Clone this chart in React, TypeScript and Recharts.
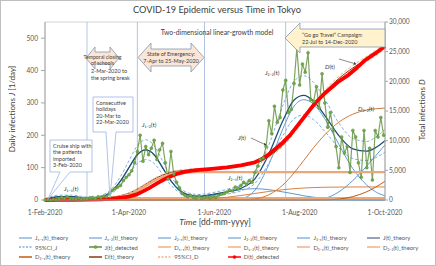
import React from "react";
import { ComposedChart, Line, XAxis, YAxis, ReferenceLine, ReferenceArea, Legend } from "recharts";

// axes
const dateTicks = [0, 60, 121, 182, 243];
const dateTickLabels = ["1-Feb-2020", "1-Apr-2020", "1-Jun-2020", "1-Aug-2020", "1-Oct-2020"];
const dailyTicks = [0, 100, 200, 300, 400, 500];
const totalTicks = [0, 5000, 10000, 15000, 20000, 25000, 30000];
// 2-Mar, 7-Apr, 25-May, 22-Jul
const eventLineDays = [30, 66, 114, 172];

// theory curves, days since 1-Feb-2020
const theoryDays = [0, 10, 20, 30, 36, 42, 48, 54, 60, 66, 72, 78, 84, 90, 96, 102, 110, 120, 130, 140, 150, 160, 170, 178, 185, 192, 200, 210, 220, 230, 236, 243];
const j11Theory = [2, 10, 10, 4, 2, 0.5, 0, 0, 0, 0, 0, 0, 0, 0, 0, 0, 0, 0, 0, 0, 0, 0, 0, 0, 0, 0, 0, 0, 0, 0, 0, 0];
const j12Theory = [0, 0, 0, 1, 3, 11, 28, 59, 100, 140, 155, 140, 100, 59, 28, 11, 2, 0, 0, 0, 0, 0, 0, 0, 0, 0, 0, 0, 0, 0, 0, 0];
const j21Theory = [0, 0, 0, 0, 0, 0, 0, 0, 0, 0, 0, 0, 0, 0, 3.4, 5.5, 9.7, 17, 25, 32, 35, 32, 25, 19, 13, 8.6, 4.7, 2, 0.7, 0.2, 0, 0];
const j22Theory = [0, 0, 0, 0, 0, 0, 0, 0, 0, 0, 0, 0, 0, 0, 0, 0, 0, 0, 0, 4, 30, 110, 220, 290, 310, 296, 251, 172, 97, 46, 26, 13];
const j31Theory = [0, 0, 0, 0, 0, 0, 0, 0, 0, 0, 0, 0, 0, 0, 0, 0, 0, 0, 0, 0, 0, 0, 0, 0, 0, 0, 5, 25, 60, 105, 135, 170];
const jTheory = [2, 10, 10, 5, 5, 11.5, 28, 59, 100, 140, 155, 140, 100, 59, 31, 16.5, 11.7, 17, 25, 36, 65, 142, 245, 309, 323, 305, 261, 199, 158, 151, 161, 183];
const jCiUpper = [4, 15, 15, 9, 9, 17, 36, 73, 121, 168, 186, 168, 121, 73, 40, 22, 17, 23, 33, 46, 80, 170, 292, 367, 384, 363, 311, 238, 190, 181, 193, 219];
const jCiLower = [0, 6, 6, 2, 2, 7, 21, 46, 80, 113, 125, 113, 80, 46, 23, 12, 8, 12, 18, 28, 51, 114, 199, 251, 263, 248, 212, 161, 128, 122, 130, 148];
const d11Theory = [0, 60, 170, 260, 290, 310, 320, 330, 330, 330, 330, 330, 330, 330, 330, 330, 330, 330, 330, 330, 330, 330, 330, 330, 330, 330, 330, 330, 330, 330, 330, 330];
const d12Theory = [0, 0, 0, 5, 13, 49, 151, 395, 840, 1517, 2350, 3183, 3860, 4305, 4550, 4650, 4690, 4700, 4700, 4700, 4700, 4700, 4700, 4700, 4700, 4700, 4700, 4700, 4700, 4700, 4700, 4700];
const d21Theory = [0, 0, 0, 0, 0, 0, 0, 0, 0, 0, 0, 0, 0, 18, 34, 60, 120, 253, 466, 759, 1100, 1441, 1734, 1911, 2022, 2098, 2150, 2180, 2195, 2200, 2200, 2200];
const d22Theory = [0, 0, 0, 0, 0, 0, 0, 0, 0, 0, 0, 0, 0, 0, 0, 0, 0, 0, 0, 10, 180, 880, 2530, 4560, 6690, 8830, 11000, 13120, 14460, 15170, 15370, 15500];
const d31Theory = [0, 0, 0, 0, 0, 0, 0, 0, 0, 0, 0, 0, 0, 0, 0, 0, 0, 0, 0, 0, 0, 0, 0, 0, 0, 0, 15, 150, 570, 1400, 2120, 3180];
const dTheory = [0, 60, 170, 265, 303, 359, 471, 725, 1170, 1847, 2680, 3513, 4190, 4653, 4914, 5040, 5140, 5283, 5496, 5799, 6310, 7351, 9294, 11501, 13742, 15958, 18195, 20480, 22255, 23800, 24720, 25910];
const dCiUpper = [0, 65, 180, 280, 320, 380, 500, 760, 1220, 1920, 2780, 3640, 4330, 4800, 5060, 5190, 5290, 5430, 5650, 5960, 6480, 7540, 9520, 11760, 14030, 16280, 18540, 20860, 22660, 24230, 25160, 26370];
const dCiLower = [0, 55, 160, 250, 285, 340, 445, 690, 1120, 1775, 2580, 3385, 4050, 4505, 4770, 4890, 4990, 5135, 5340, 5640, 6140, 7160, 9070, 11240, 13450, 15640, 17850, 20100, 21850, 23370, 24280, 25450];

// detected daily infections, every 2nd day from 1-Feb
const detectedStep = 2;
const jDetected = [
  0, 1, 0, 2, 1, 3, 8, 5, 10, 3,
  4, 3, 6, 2, 5, 4, 7, 8, 5, 10,
  8, 12, 10, 20, 30, 35, 40, 45, 60, 70,
  78, 90, 115, 150, 200, 120, 165, 140, 160, 185,
  125, 155, 175, 115, 65, 150, 80, 55, 38, 20,
  15, 10, 14, 8, 6, 12, 5, 8, 10, 6,
  12, 8, 15, 18, 20, 25, 30, 28, 40, 35,
  45, 55, 48, 60, 55, 85, 105, 125, 130, 165,
  245, 205, 290, 240, 255, 340, 370, 270, 280, 360,
  470, 355, 420, 395, 455, 310, 305, 350, 285, 390,
  300, 225, 270, 215, 165, 100, 195, 145, 165, 85,
  215, 195, 115, 70, 215, 100, 160, 62, 215, 195,
  255, 200,
];

// detected total infections
const dDetectedDays = [0, 10, 20, 30, 40, 45, 50, 55, 60, 65, 70, 75, 80, 85, 90, 95, 100, 105, 110, 115, 121, 130, 140, 150, 155, 160, 165, 170, 175, 182, 188, 193, 200, 205, 210, 217, 223, 229, 236, 243];
const dDetected = [0, 20, 30, 50, 120, 180, 260, 400, 560, 900, 1450, 2100, 2800, 3450, 4000, 4450, 4750, 4950, 5080, 5170, 5300, 5500, 5850, 6350, 6900, 7700, 8700, 9700, 10900, 13000, 14800, 16300, 18000, 19000, 20000, 21100, 22300, 23600, 24700, 25900];

const theoryRows = theoryDays.map((day, i) => ({
  day,
  j11: j11Theory[i],
  j12: j12Theory[i],
  j21: j21Theory[i],
  j22: j22Theory[i],
  j31: j31Theory[i],
  j: jTheory[i],
  jUp: jCiUpper[i],
  jLo: jCiLower[i],
  d11: d11Theory[i],
  d12: d12Theory[i],
  d21: d21Theory[i],
  d22: d22Theory[i],
  d31: d31Theory[i],
  d: dTheory[i],
  dUp: dCiUpper[i],
  dLo: dCiLower[i],
}));
const jDetectedRows = jDetected.map((v, i) => ({ day: i * detectedStep, jDet: v }));
const dDetectedRows = dDetectedDays.map((day, i) => ({ day, dDet: dDetected[i] }));

const FONT = "Lato, 'Open Sans', sans-serif";
const TXT = "#404040";
const BLUE = "#5B9BD5";
const NAVY = "#1F4E79";
const CI_BLUE = "#7FB0E0";
const GREEN = "#5E8F38";
const PEACH = "#EBA878";

const legendItems = [
  { name: "J₁₋₁(t)_theory", color: "#8DB4E2" },
  { name: "J₁₋₂(t)_theory", color: "#8DB4E2" },
  { name: "J₂₋₁(t)_theory", color: "#8DB4E2" },
  { name: "J₂₋₂(t)_theory", color: "#8DB4E2" },
  { name: "J₃₋₁(t)_theory", color: "#8DB4E2" },
  { name: "J(t)_theory", color: "#6F85A3" },
  { name: "95%CI_J", color: CI_BLUE, dash: true },
  { name: "J(t)_detected", color: GREEN, marker: "#70AD47" },
  { name: "D₁₋₁(t)_theory", color: "#F4B183" },
  { name: "D₁₋₂(t)_theory", color: "#F4B183" },
  { name: "D₂₋₁(t)_theory", color: "#F4B183" },
  { name: "D₂₋₂(t)_theory", color: "#F4B183" },
  { name: "D₃₋₁(t)_theory", color: "#C55A11" },
  { name: "D(t)_theory", color: "#843C0C" },
  { name: "95%CI_D", color: "#F4B183", dash: true },
  { name: "D(t)_detected", color: "#FF0000", marker: "#FF0000" },
];

function renderLegend() {
  return (
    <div style={{ position: "relative", width: 436, height: 36, fontFamily: FONT, fontSize: 5.9, color: "#595959" }}>
      {legendItems.map((it, i) => {
        const col = i % 6;
        const row = Math.floor(i / 6);
        return (
          <div
            key={it.name}
            style={{ position: "absolute", left: 19 + col * 69.6, top: 3 + row * 9.6, height: 9.6, display: "flex", alignItems: "center", whiteSpace: "nowrap" }}
          >
            <svg width={13} height={6}>
              <line x1={0} y1={3} x2={13} y2={3} stroke={it.color} strokeWidth={1.5} strokeDasharray={it.dash ? "2 1.5" : undefined} />
              {it.marker && <circle cx={6.5} cy={3} r={1.5} fill={it.marker} stroke={it.color} strokeWidth={0.5} />}
            </svg>
            <span style={{ marginLeft: 3 }}>{it.name}</span>
          </div>
        );
      })}
    </div>
  );
}

const leftTitle = () => (
  <text transform="translate(15,109) rotate(-90)" textAnchor="middle" fontSize={8} fill={TXT} fontFamily={FONT}>
    Daily infections <tspan fontStyle="italic">J</tspan> [1/day]
  </text>
);
const rightTitle = () => (
  <text transform="translate(425,110) rotate(-90)" textAnchor="middle" fontSize={8} fill={TXT} fontFamily={FONT}>
    Total infections <tspan fontStyle="italic">D</tspan>
  </text>
);
const bottomTitle = () => (
  <text x={215} y={225} textAnchor="middle" fontSize={8.5} fill={TXT} fontFamily={FONT}>
    <tspan fontStyle="italic">Time</tspan> [dd-mm-yyyy]
  </text>
);

function CurveLabel({ x, y, letter, sub }: { x: number; y: number; letter: string; sub: string }) {
  return (
    <text x={x} y={y} fontSize={6.3} fill={TXT} fontFamily={FONT}>
      <tspan fontStyle="italic">{letter}</tspan>
      {sub}(t)
    </text>
  );
}

function Notes() {
  const box = { fill: "#ffffff", stroke: "#8FAADC", strokeWidth: 0.7 };
  const arrow = { fill: "#FBE5D6", stroke: "#8497B0", strokeWidth: 0.8 };
  const t = { fontSize: 5.5, fill: TXT, fontFamily: FONT };
  return (
    <svg width={436} height={266} style={{ position: "absolute", left: 0, top: 0, pointerEvents: "none" }}>
      <rect x={0.5} y={0.5} width={435} height={265} fill="none" stroke="#bfbfbf" />
      <text x={217} y={13} textAnchor="middle" fontSize={9.2} fill={TXT} fontFamily={FONT}>
        COVID-19 Epidemic versus Time in Tokyo
      </text>
      <text x={217} y={34.5} textAnchor="middle" fontSize={6.8} fill={TXT} fontFamily={FONT}>
        Two-dimensional linear-growth model
      </text>

      {/* schools */}
      <path d="M86,58 L95,47 L95,52 L110,52 L110,47 L119,58 L110,69 L110,64 L95,64 L95,69 Z" {...arrow} />
      <text x={102.5} y={58.5} textAnchor="middle" {...t} fontSize={5.2}>Temporal closing</text>
      <text x={102.5} y={64.5} textAnchor="middle" {...t} fontSize={5.2}>of schools</text>
      <text x={91} y={72.5} {...t}>2-Mar-2020 to</text>
      <text x={91} y={79.5} {...t}>the spring break</text>

      {/* emergency */}
      <path d="M138,57.5 L151,43 L151,49 L191,49 L191,43 L204,57.5 L191,72 L191,66 L151,66 L151,72 Z" {...arrow} />
      <text x={171} y={55.5} textAnchor="middle" {...t}>State of Emergency:</text>
      <text x={171} y={62.5} textAnchor="middle" {...t}>7-Apr to 25-May-2020</text>

      {/* go to travel */}
      <path d="M285,38 L300,23 L300,29 L385,29 L385,47 L300,47 L300,53 Z" fill="#FFF2CC" stroke="#8497B0" strokeWidth={0.8} />
      <text x={302} y={36.5} {...t}>“Go go Travel” Campaign:</text>
      <text x={302} y={44} {...t}>22-Jul to 14-Dec-2020</text>

      {/* cruise ship */}
      <path d="M50,140 H92 V172 H70 L48,199 L60,172 H50 Z" {...box} />
      <text x={53} y={147.5} {...t}>Cruise ship with</text>
      <text x={53} y={154} {...t}>the patients</text>
      <text x={53} y={160.5} {...t}>imported</text>
      <text x={53} y={167} {...t}>3-Feb-2020</text>

      {/* holidays */}
      <path d="M93,97 H133 V132 H116 L110,198 L106,132 H93 Z" {...box} />
      <text x={96} y={104.5} {...t}>Consecutive</text>
      <text x={96} y={111} {...t}>holidays</text>
      <text x={96} y={117.5} {...t}>20-Mar to</text>
      <text x={96} y={124} {...t}>22-Mar-2020</text>

      <CurveLabel x={64} y={191} letter="J" sub="₁₋₁" />
      <CurveLabel x={142} y={127} letter="J" sub="₁₋₂" />
      <CurveLabel x={228} y={180} letter="J" sub="₂₋₁" />
      <CurveLabel x={265} y={75} letter="J" sub="₂₋₂" />
      <CurveLabel x={358} y={111} letter="D" sub="₂₋₂" />
      <CurveLabel x={238} y={140} letter="J" sub="" />
      <CurveLabel x={325} y={69} letter="D" sub="" />

      <defs>
        <marker id="ah" markerWidth={5} markerHeight={5} refX={4} refY={2.5} orient="auto">
          <path d="M0,0 L5,2.5 L0,5 Z" fill="#404040" />
        </marker>
      </defs>
      <line x1={251} y1={138} x2={266} y2={145} stroke="#404040" strokeWidth={0.6} markerEnd="url(#ah)" />
      <line x1={339} y1={59} x2={356} y2={64} stroke="#404040" strokeWidth={0.6} markerEnd="url(#ah)" />
    </svg>
  );
}

export default function App() {
  const base = { type: "monotone" as const, dot: false, isAnimationActive: false };
  const tickStyle = { fontSize: 6.6, fill: "#595959" };
  return (
    <div style={{ position: "absolute", left: 0, top: 0, width: 436, height: 266, background: "#fff", fontFamily: FONT }}>
      <ComposedChart width={436} height={266} data={theoryRows} margin={{ top: 22, right: 0, bottom: 0, left: 0 }}>
        <XAxis
          dataKey="day"
          type="number"
          domain={[0, 243]}
          ticks={dateTicks}
          interval={0}
          tickFormatter={(v: number) => dateTickLabels[dateTicks.indexOf(v)]}
          height={30}
          tick={tickStyle}
          tickLine={false}
          tickMargin={4}
          axisLine={{ stroke: "#a6a6a6" }}
          label={bottomTitle}
        />
        <YAxis
          yAxisId="J"
          domain={[0, 550]}
          ticks={dailyTicks}
          interval={0}
          width={45}
          tick={tickStyle}
          tickSize={4}
          tickMargin={3}
          tickLine={{ stroke: "#a6a6a6" }}
          axisLine={{ stroke: "#a6a6a6" }}
          label={leftTitle}
        />
        <YAxis
          yAxisId="D"
          orientation="right"
          domain={[0, 30000]}
          ticks={totalTicks}
          interval={0}
          width={51}
          tick={tickStyle}
          tickSize={3}
          tickMargin={1}
          tickLine={{ stroke: "#a6a6a6" }}
          axisLine={{ stroke: "#a6a6a6" }}
          tickFormatter={(v: number) => v.toLocaleString("en-US")}
          label={rightTitle}
        />
        <ReferenceArea yAxisId="J" x1={0} x2={243} y1={0} y2={550} fill="none" stroke="#c8c8c8" strokeWidth={0.8} />
        {eventLineDays.map((d) => (
          <ReferenceLine key={d} yAxisId="J" x={d} stroke="#9DB6DE" strokeWidth={0.8} />
        ))}

        <Line {...base} yAxisId="J" dataKey="j11" stroke={BLUE} strokeWidth={1} />
        <Line {...base} yAxisId="J" dataKey="j12" stroke={BLUE} strokeWidth={1} />
        <Line {...base} yAxisId="J" dataKey="j21" stroke={BLUE} strokeWidth={1} />
        <Line {...base} yAxisId="J" dataKey="j22" stroke={BLUE} strokeWidth={1} />
        <Line {...base} yAxisId="J" dataKey="j31" stroke={BLUE} strokeWidth={1} />
        <Line {...base} yAxisId="J" dataKey="j" stroke={NAVY} strokeWidth={1.3} />
        <Line {...base} yAxisId="J" dataKey="jUp" stroke={CI_BLUE} strokeWidth={1} strokeDasharray="3 2" />
        <Line {...base} yAxisId="J" dataKey="jLo" stroke={CI_BLUE} strokeWidth={1} strokeDasharray="3 2" />
        <Line
          type="linear"
          isAnimationActive={false}
          data={jDetectedRows}
          yAxisId="J"
          dataKey="jDet"
          stroke={GREEN}
          strokeOpacity={0.8}
          strokeWidth={1.2}
          dot={{ r: 1.5, fill: "#70AD47", stroke: "#548235", strokeWidth: 0.5 }}
        />

        <Line {...base} yAxisId="D" dataKey="d11" stroke={PEACH} strokeWidth={2.2} />
        <Line {...base} yAxisId="D" dataKey="d12" stroke={PEACH} strokeWidth={2.2} />
        <Line {...base} yAxisId="D" dataKey="d21" stroke="#D98244" strokeWidth={1} />
        <Line {...base} yAxisId="D" dataKey="d22" stroke="#D07A3A" strokeWidth={1} />
        <Line {...base} yAxisId="D" dataKey="d31" stroke="#C55A11" strokeWidth={1} />
        <Line {...base} yAxisId="D" dataKey="d" stroke="#843C0C" strokeWidth={1} />
        <Line {...base} yAxisId="D" dataKey="dUp" stroke="#F4B183" strokeWidth={1} strokeDasharray="3 2" />
        <Line {...base} yAxisId="D" dataKey="dLo" stroke="#F4B183" strokeWidth={1} strokeDasharray="3 2" />
        <Line
          type="linear"
          isAnimationActive={false}
          data={dDetectedRows}
          yAxisId="D"
          dataKey="dDet"
          stroke="#FF0000"
          strokeWidth={3.8}
          strokeLinejoin="round"
          dot={false}
        />
        <Legend verticalAlign="bottom" height={36} content={renderLegend} wrapperStyle={{ left: 0, width: 436 }} />
      </ComposedChart>
      <Notes />
    </div>
  );
}
